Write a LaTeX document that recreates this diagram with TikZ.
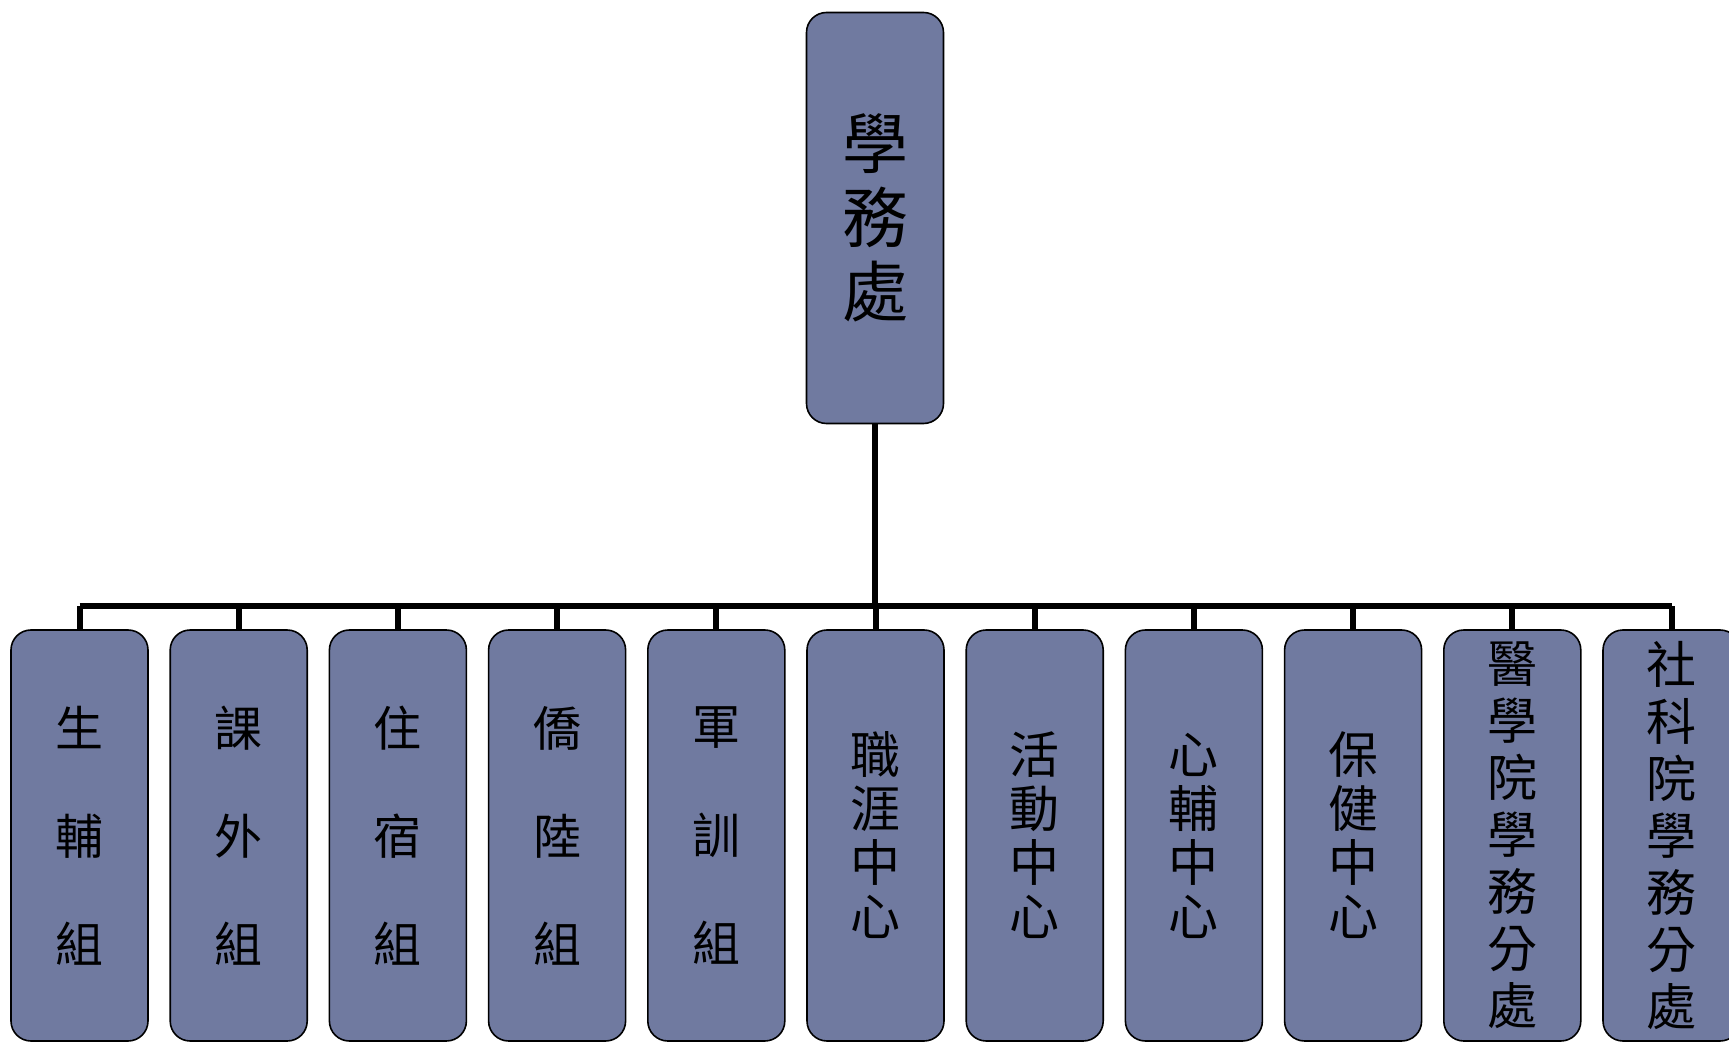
\documentclass[tikz,border=0pt]{standalone}
\usepackage{fontspec}
\newfontfamily\cjk{Noto Sans CJK TC}
\usepackage{tikz}
\usetikzlibrary{positioning}
\definecolor{boxfill}{RGB}{112,122,160}

\begin{document}
\begin{tikzpicture}[
    x=0.5pt, y=-0.5pt,
    unit/.style={
        rectangle,
        rounded corners=10pt,
        draw=black,
        line width=0.8pt,
        fill=boxfill,
        minimum width=68.5pt,
        minimum height=205.5pt,
        inner sep=1pt,
        align=center
    },
    three/.style={font=\cjk\fontsize{24pt}{54pt}\selectfont},
    four/.style={font=\cjk\fontsize{25pt}{27pt}\selectfont},
    seven/.style={font=\cjk\fontsize{25pt}{28.5pt}\selectfont},
    link/.style={line width=3pt}
]
\useasboundingbox (0,0) rectangle (1729,1042);

% Head office
\node[unit, font=\cjk\fontsize{33pt}{37pt}\selectfont] (office) at (875,218) {學\\務\\處};

% Sections
\node[unit, three] (c1) at (79.5,835.5) {生\\輔\\組};
\node[unit, three, right=10.3pt of c1] (c2) {課\\外\\組};
\node[unit, three, right=10.3pt of c2] (c3) {住\\宿\\組};
\node[unit, three, right=10.3pt of c3] (c4) {僑\\陸\\組};
\node[unit, three, right=10.3pt of c4] (c5) {軍\\訓\\組};
\node[unit, four, right=10.3pt of c5] (c6) {職\\涯\\中\\心};
\node[unit, four, right=10.3pt of c6] (c7) {活\\動\\中\\心};
\node[unit, four, right=10.3pt of c7] (c8) {心\\輔\\中\\心};
\node[unit, four, right=10.3pt of c8] (c9) {保\\健\\中\\心};
\node[unit, seven, right=10.3pt of c9] (c10) {醫\\學\\院\\學\\務\\分\\處};
\node[unit, seven, right=10.3pt of c10] (c11) {社\\科\\院\\學\\務\\分\\處};

% Connectors
\coordinate (bar) at (875,606);
\draw[link] (office.south) -- (office.south |- bar);
\draw[link] (c1.north |- bar) -- (c11.north |- bar);
\draw[link] (c1.north) -- (c1.north |- bar);
\draw[link] (c2.north) -- (c2.north |- bar);
\draw[link] (c3.north) -- (c3.north |- bar);
\draw[link] (c4.north) -- (c4.north |- bar);
\draw[link] (c5.north) -- (c5.north |- bar);
\draw[link] (c6.north) -- (c6.north |- bar);
\draw[link] (c7.north) -- (c7.north |- bar);
\draw[link] (c8.north) -- (c8.north |- bar);
\draw[link] (c9.north) -- (c9.north |- bar);
\draw[link] (c10.north) -- (c10.north |- bar);
\draw[link] (c11.north) -- (c11.north |- bar);

\end{tikzpicture}
\end{document}
